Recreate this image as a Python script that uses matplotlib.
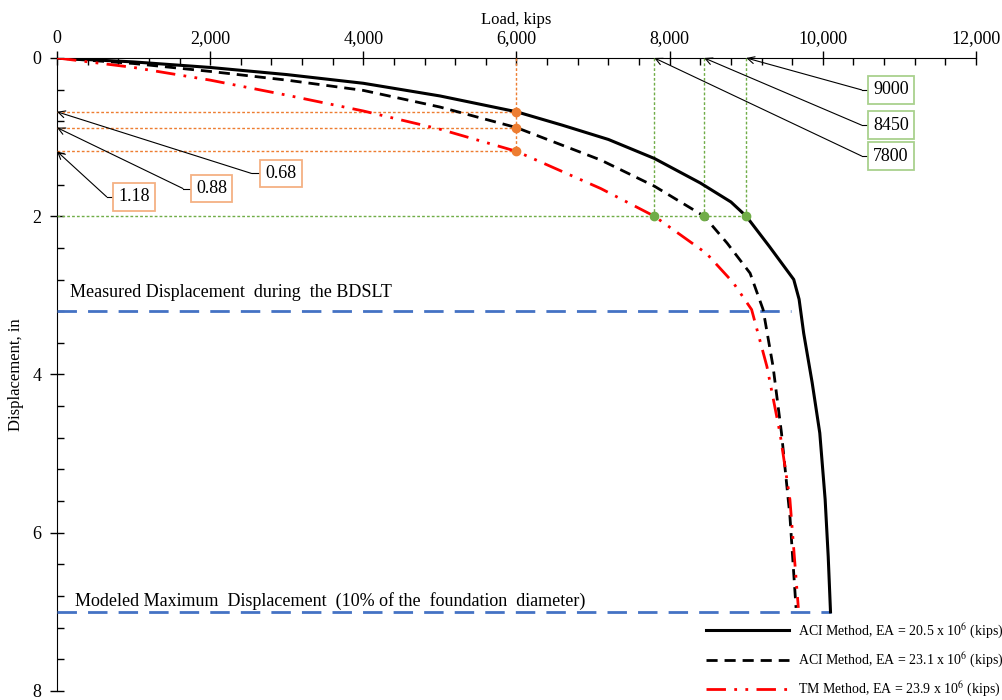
import numpy as np
import matplotlib
matplotlib.use('Agg')
import matplotlib.pyplot as plt
from matplotlib.ticker import MultipleLocator, FuncFormatter

plt.rcParams['font.family'] = ['Liberation Serif', 'DejaVu Serif']
plt.rcParams['mathtext.fontset'] = 'stix'

# load-displacement curves (load in kips, displacement in inches)
aci1_load = [0, 1000, 2000, 3000, 4000, 5000, 6000, 6600, 7200, 7800, 8400, 8800, 9000,
             9300, 9620, 9690, 9750, 9860, 9960, 10030, 10070, 10100]
aci1_disp = [0, 0.05, 0.12, 0.21, 0.32, 0.48, 0.68, 0.85, 1.03, 1.27, 1.58, 1.82, 2.0,
             2.38, 2.8, 3.05, 3.48, 4.1, 4.74, 5.58, 6.3, 7.0]

aci2_load = [0, 1000, 2000, 3000, 4000, 5000, 6000, 7100, 7800, 8450, 8750, 9050, 9220,
             9350, 9460, 9570, 9650]
aci2_disp = [0, 0.07, 0.17, 0.28, 0.41, 0.62, 0.88, 1.29, 1.62, 2.0, 2.34, 2.72, 3.18,
             3.9, 4.74, 5.79, 6.95]

tm_load = [0, 1000, 2000, 3000, 4000, 5000, 6000, 7100, 7800, 8480, 8830, 9070, 9270,
           9440, 9570, 9680]
tm_disp = [0, 0.12, 0.28, 0.47, 0.67, 0.9, 1.18, 1.65, 2.0, 2.47, 2.84, 3.18, 3.9,
           4.74, 5.58, 6.95]

labels = [r'ACI Method, EA = 20.5 x 10$^6$ (kips)',
          r'ACI Method, EA = 23.1 x 10$^6$ (kips)',
          r'TM Method, EA = 23.9 x 10$^6$ (kips)']

# displacement read at 6000 kips, load read at 2 in
disp_at_6000 = [0.68, 0.88, 1.18]
load_6000 = 6000
load_at_2in = [7800, 8450, 9000]
disp_2in = 2.0

measured_disp = 3.2
measured_end = 9580
max_disp = 7.0
max_end = 10100

orange = '#ED7D31'
orange_lt = '#F4B183'
green = '#70AD47'
green_lt = '#A9D18E'
blue = '#4472C4'

fig = plt.figure(figsize=(10.03, 7), dpi=100)
ax = fig.add_axes([0.0568, 0.0129, 0.9163, 0.9043])

ax.plot(aci1_load, aci1_disp, color='black', lw=2.2, label=labels[0], zorder=4)
ax.plot(aci2_load, aci2_disp, color='black', lw=2, dashes=(4, 2.5), label=labels[1], zorder=4)
ax.plot(tm_load, tm_disp, color='red', lw=2, dashes=(7, 3, 1, 3, 1, 3), label=labels[2], zorder=4)

# guide lines at 6000 kips
ax.plot([load_6000, load_6000], [0, max(disp_at_6000)], color=orange, lw=1, ls=(0, (2, 1.5)), zorder=3)
for d in disp_at_6000:
    ax.plot([0, load_6000], [d, d], color=orange, lw=1, ls=(0, (2, 1.5)), zorder=3)
ax.plot([load_6000] * 3, disp_at_6000, 'o', color=orange, ms=6, zorder=5)

# guide lines at 2 in
ax.plot([0, max(load_at_2in)], [disp_2in, disp_2in], color=green, lw=1, ls=(0, (2, 1.5)), zorder=3)
for p in load_at_2in:
    ax.plot([p, p], [0, disp_2in], color=green, lw=1, ls=(0, (2, 1.5)), zorder=3)
ax.plot(load_at_2in, [disp_2in] * 3, 'o', color=green, ms=6, zorder=5)

# horizontal reference lines
ax.plot([0, measured_end], [measured_disp, measured_disp], color=blue, lw=2, dashes=(7, 4), zorder=3)
ax.plot([0, max_end], [max_disp, max_disp], color=blue, lw=2, dashes=(7, 4), zorder=3)
ax.text(170, 2.97, 'Measured Displacement  during  the BDSLT', fontsize=13, va='center')
ax.text(230, 6.86, 'Modeled Maximum  Displacement  (10% of the  foundation  diameter)',
        fontsize=13, va='center')

# callouts
aprops = dict(arrowstyle='->,head_length=0.5,head_width=0.25', color='black', lw=0.8,
              shrinkA=0, shrinkB=0)
orange_boxes = [(2716, 1.46, 2542), (1815, 1.65, 1645), (797, 1.755, 649)]
for d, (tx, ty, kx) in zip(disp_at_6000, orange_boxes):
    ax.plot([kx, tx], [ty, ty], color='black', lw=0.8, zorder=6)
    ax.annotate('', xy=(0, d), xytext=(kx, ty), arrowprops=aprops, annotation_clip=False, zorder=6)
    ax.text(tx, ty, '%.2f' % d, fontsize=13, ha='left', va='center', zorder=7,
            bbox=dict(boxstyle='square,pad=0.3', fc='white', ec=orange_lt, lw=1.3))

green_boxes = [(10656, 1.24, 10508), (10656, 0.85, 10508), (10656, 0.404, 10508)]
for p, (tx, ty, kx) in zip(load_at_2in, green_boxes):
    ax.plot([kx, tx], [ty, ty], color='black', lw=0.8, zorder=6)
    ax.annotate('', xy=(p, 0), xytext=(kx, ty), arrowprops=aprops, annotation_clip=False, zorder=6)
    ax.text(tx, ty, str(p), fontsize=13, ha='left', va='center', zorder=7,
            bbox=dict(boxstyle='square,pad=0.3', fc='white', ec=green_lt, lw=1.3))

ax.set_xlim(0, 12000)
ax.set_ylim(8, 0)
ax.xaxis.tick_top()
ax.xaxis.set_label_position('top')
ax.xaxis.set_major_locator(MultipleLocator(2000))
ax.xaxis.set_minor_locator(MultipleLocator(400))
ax.yaxis.set_major_locator(MultipleLocator(2))
ax.yaxis.set_minor_locator(MultipleLocator(0.4))
ax.xaxis.set_major_formatter(FuncFormatter(lambda v, p: '{:,.0f}'.format(v)))
ax.tick_params(which='major', direction='inout', length=10, width=1, labelsize=13, pad=3)
ax.tick_params(axis='y', which='major', pad=6)
ax.tick_params(which='minor', direction='in', length=5, width=1)
ax.spines['right'].set_visible(False)
ax.spines['bottom'].set_visible(False)
ax.set_xlabel('Load, kips', fontsize=12, labelpad=4)
ax.set_ylabel('Displacement, in', fontsize=12, labelpad=6)

ax.legend(loc='upper left', bbox_to_anchor=(0.704, 0.112), bbox_transform=fig.transFigure,
          frameon=False, fontsize=10, handlelength=6.0, handletextpad=0.6,
          labelspacing=0.75, borderpad=0, borderaxespad=0)

fig.savefig('out.png', dpi=100)
